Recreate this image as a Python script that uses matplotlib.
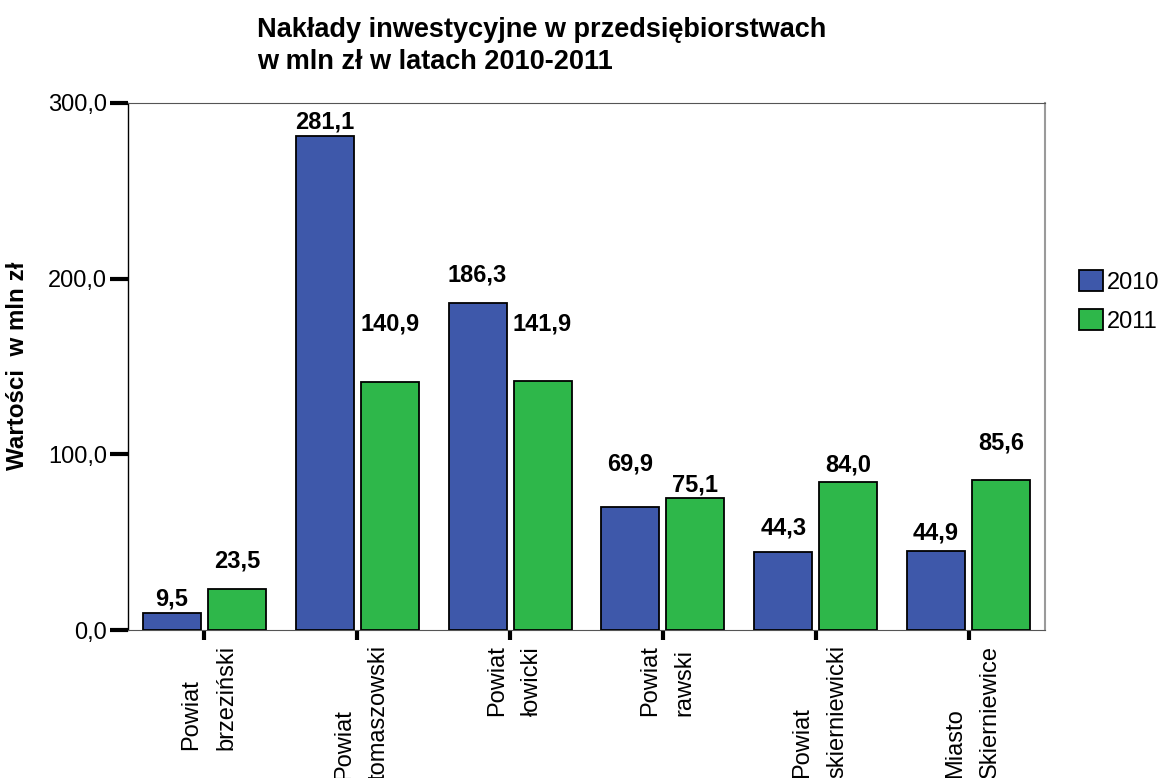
import matplotlib
matplotlib.use("Agg")
import matplotlib.pyplot as plt
import numpy as np
from matplotlib.patches import Patch

plt.rcParams['font.family'] = ['Liberation Sans', 'DejaVu Sans']

categories = ["Powiat\nbrzeziński", "Powiat\ntomaszowski", "Powiat\nłowicki",
              "Powiat\nrawski", "Powiat\nskierniewicki", "Miasto\nSkierniewice"]
series_names = ["2010", "2011"]
values_2010 = [9.5, 281.1, 186.3, 69.9, 44.3, 44.9]
values_2011 = [23.5, 140.9, 141.9, 75.1, 84.0, 85.6]
y_ticks = [0, 100, 200, 300]

# label offsets above bar tops (pixels) - style
off_2010 = [14, 14, 28, 43, 24, 18]
off_2011 = [28, 58, 57, 13, 17, 37]

blue = "#3E58AA"
green = "#2EB74A"

W, H = 1173, 778
fig = plt.figure(figsize=(W / 100, H / 100), dpi=100)
ax = fig.add_axes([128 / W, 1 - 630 / H, (1045 - 128) / W, (630 - 103) / H])

x = np.arange(len(categories))
bw = 0.38
gap = 0.045
d = (bw + gap) / 2
b1 = ax.bar(x - d, values_2010, bw, color=blue, edgecolor='black', linewidth=1.3, zorder=3)
b2 = ax.bar(x + d, values_2011, bw, color=green, edgecolor='black', linewidth=1.3, zorder=3)

def fmt(v):
    return f"{v:.1f}".replace('.', ',')

for bars, vals, offs in ((b1, values_2010, off_2010), (b2, values_2011, off_2011)):
    for b, v, o in zip(bars, vals, offs):
        ax.annotate(fmt(v), (b.get_x() + b.get_width() / 2, v),
                    xytext=(0, o * 0.72), textcoords='offset points',
                    ha='center', va='center', fontsize=17, fontweight='bold', zorder=4)

ax.set_xlim(-0.5, len(categories) - 0.5)
ax.set_ylim(0, 300)
ax.set_yticks(y_ticks)
ax.set_yticklabels([fmt(v) for v in y_ticks], fontsize=17)
ax.set_xticks(x)
ax.set_xticklabels([])
xtrans = ax.get_xaxis_transform()
for xi, cat in zip(x, categories):
    ax.annotate(cat, (xi, 0), xycoords=xtrans, xytext=(3, -11), textcoords='offset points',
                rotation=90, fontsize=17, ha='center', va='top',
                multialignment='left', linespacing=1.75, annotation_clip=False)
ax.tick_params(axis='y', direction='out', length=13, width=3, pad=2, color='black')
ax.tick_params(axis='x', direction='out', length=7.5, width=3, pad=3, color='black')

ax.spines['left'].set_color('black')
ax.spines['left'].set_linewidth(1.0)
ax.spines['bottom'].set_color('#555555')
ax.spines['top'].set_color('#555555')
ax.spines['right'].set_color('#9a9a9a')
ax.spines['right'].set_linewidth(1.5)

fig.text(18 / W, 1 - 366 / H, "Wartości  w mln zł", rotation=90, fontsize=17.4,
         fontweight='bold', ha='center', va='center')

fig.text(257 / W, 1 - 17 / H, "Nakłady inwestycyjne w przedsiębiorstwach\nw mln zł w latach 2010-2011",
         fontsize=19.5, fontweight='bold', ha='left', va='top', linespacing=1.3)

handles = [Patch(facecolor=blue, edgecolor='black', linewidth=1.3),
           Patch(facecolor=green, edgecolor='black', linewidth=1.3)]
fig.legend(handles, series_names, loc='upper left', bbox_to_anchor=(1079 / W, 1 - 270 / H),
           frameon=False, fontsize=17, handlelength=1.0, handleheight=1.0,
           handletextpad=0.2, labelspacing=0.65, borderaxespad=0, borderpad=0)

fig.savefig("out.png", dpi=100)
